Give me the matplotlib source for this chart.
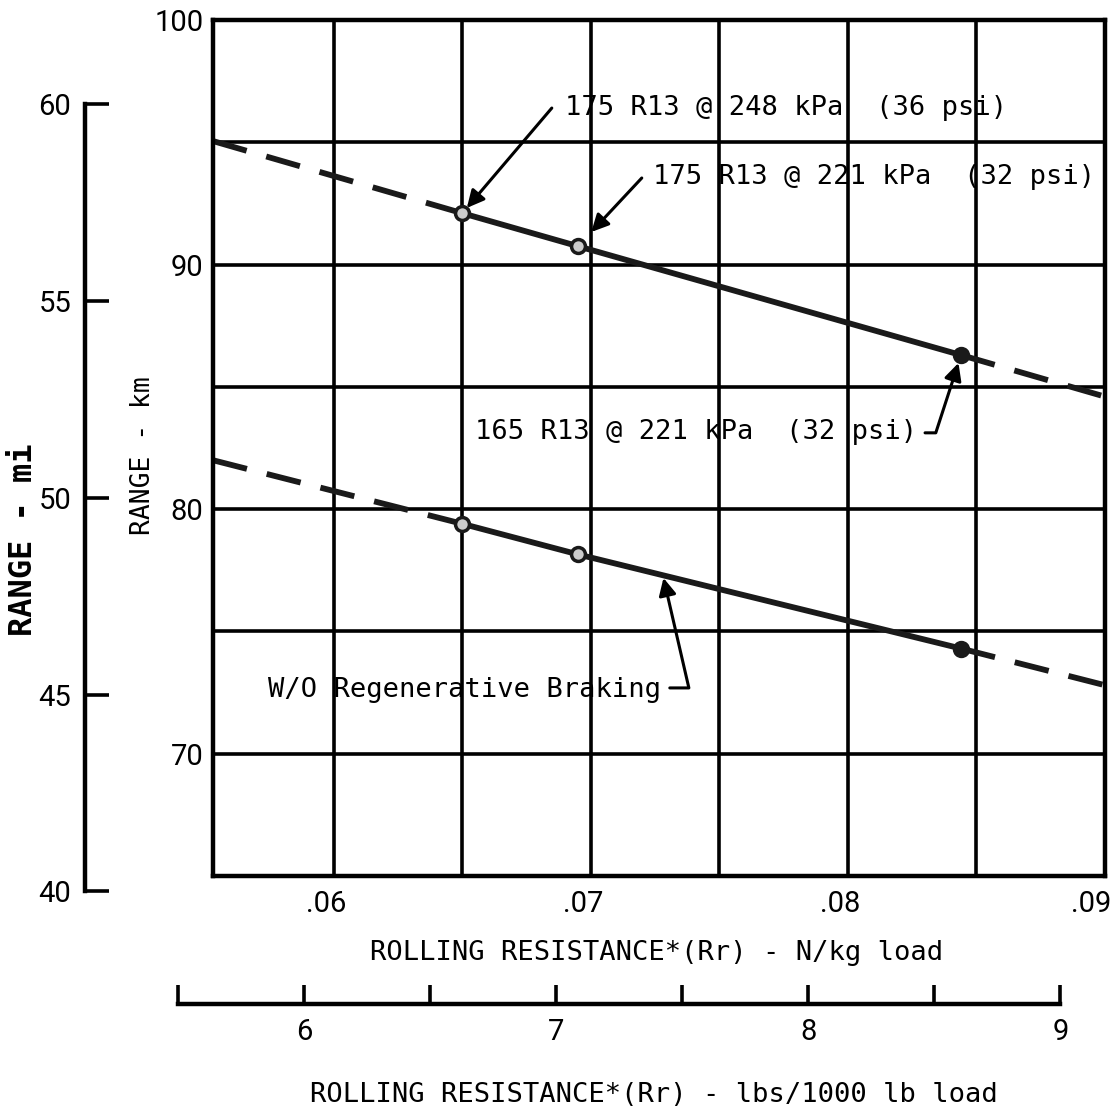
import matplotlib
matplotlib.use("Agg")
import matplotlib.pyplot as plt
import numpy as np
from matplotlib import font_manager
from matplotlib.transforms import ScaledTranslation

# rolling resistance (N/kg) of the three tyres and the range they give (km)
rr_nkg = [0.065, 0.0695, 0.0844]
range_regen_km = [92.1, 90.75, 86.3]
range_noregen_km = [79.4, 78.15, 74.3]

# dashed extrapolation to the edges of the plot
rr_extrap = [0.0553, 0.09]
regen_extrap_km = [95.05, 84.6]
noregen_extrap_km = [82.0, 72.8]

tyre_labels = ["175 R13 @ 248 kPa  (36 psi)",
               "175 R13 @ 221 kPa  (32 psi)",
               "165 R13 @ 221 kPa  (32 psi)"]
noregen_label = "W/O Regenerative Braking"

km_ticks = [70, 80, 90, 100]
km_grid = [75, 85, 95]
nkg_ticks = [0.06, 0.07, 0.08, 0.09]
nkg_ticklabels = [".06", ".07", ".08", ".09"]
nkg_grid = [0.065, 0.075, 0.085]
mi_ticks = [40, 45, 50, 55, 60]
lbs_ticks = [6, 7, 8, 9]
lbs_minor = [5.5, 6.5, 7.5, 8.5]

KM_PER_MI = 1.609344
NKG_PER_LBS = 0.00980665

names = {f.name for f in font_manager.fontManager.ttflist}
if "Liberation Sans Narrow" in names:
    num_font, num_size = "Liberation Sans Narrow", 23
elif "Roboto" in names:
    num_font, num_size = "Roboto", 21
else:
    num_font, num_size = "DejaVu Sans", 19
mono = "DejaVu Sans Mono"

W, H = 1115, 1114
fig = plt.figure(figsize=(W / 100, H / 100), dpi=100)
pos = [213 / W, 1 - 876 / H, 892 / W, 856 / H]
ax = fig.add_axes(pos)

xlim = (0.0553, 0.09)
ylim = (65, 100)
ax.set_xlim(*xlim)
ax.set_ylim(*ylim)

ax.set_xticks(nkg_ticks)
ax.set_xticklabels(nkg_ticklabels)
ax.set_xticks(nkg_grid, minor=True)
ax.set_yticks(km_ticks)
ax.set_yticks(km_grid, minor=True)
ax.grid(True, which="both", color="black", lw=2.6)
ax.set_axisbelow(True)
ax.tick_params(which="both", length=0)
ax.tick_params(axis="x", pad=10)
ax.tick_params(axis="y", pad=7)
for lab in ax.get_xticklabels() + ax.get_yticklabels():
    lab.set_fontfamily(num_font)
    lab.set_fontsize(num_size)
xlabs = ax.get_xticklabels()
for lab in xlabs:
    lab.set_transform(lab.get_transform() + ScaledTranslation(-0.08, 0, fig.dpi_scale_trans))
xlabs[-1].set_horizontalalignment("right")
xlabs[-1].set_transform(xlabs[-1].get_transform() + ScaledTranslation(0.14, 0, fig.dpi_scale_trans))
for sp in ax.spines.values():
    sp.set_linewidth(3.2)

line_kw = dict(color="#1a1a1a", lw=4.2, solid_capstyle="butt")
dash_kw = dict(color="#1a1a1a", lw=4.2, dashes=(6, 3.5))

for y, y_ext in [(range_regen_km, regen_extrap_km), (range_noregen_km, noregen_extrap_km)]:
    ax.plot(rr_nkg, y, **line_kw)
    ax.plot([rr_extrap[0], rr_nkg[0]], [y_ext[0], y[0]], **dash_kw)
    ax.plot([rr_nkg[-1], rr_extrap[1]], [y[-1], y_ext[1]], **dash_kw)
    ax.plot(rr_nkg[:2], y[:2], "o", ms=10, mfc="#cccccc", mec="#1a1a1a", mew=2.5)
    ax.plot(rr_nkg[2:], y[2:], "o", ms=10, mfc="#1a1a1a", mec="#1a1a1a", mew=2.5)

txt_kw = dict(family=mono, fontsize=19.5, va="center", ha="left")
arr_kw = dict(arrowstyle="-|>", color="black", lw=2.2, mutation_scale=26)

# 175 R13 @ 248 kPa
ax.text(0.06899, 96.40, tyre_labels[0], **txt_kw)
ax.annotate("", xy=(rr_nkg[0], range_regen_km[0]), xytext=(0.06848, 96.40),
            arrowprops=dict(shrinkA=0, shrinkB=5, **arr_kw))
# 175 R13 @ 221 kPa
ax.text(0.07241, 93.58, tyre_labels[1], **txt_kw)
ax.annotate("", xy=(rr_nkg[1], range_regen_km[1]), xytext=(0.07198, 93.54),
            arrowprops=dict(shrinkA=0, shrinkB=14, **arr_kw))
# 165 R13 @ 221 kPa
ax.text(0.06549, 83.16, tyre_labels[2], **txt_kw)
ax.annotate("", xy=(rr_nkg[2], range_regen_km[2]), xytext=(0.08300, 83.12),
            arrowprops=dict(shrinkA=0, shrinkB=6,
                            connectionstyle="angle,angleA=0,angleB=72,rad=0", **arr_kw))
# without regenerative braking
ax.text(0.05743, 72.61, noregen_label, **txt_kw)
x_tip = 0.0728
ax.annotate("", xy=(x_tip, np.interp(x_tip, rr_nkg, range_noregen_km)),
            xytext=(0.07307, 72.69),
            arrowprops=dict(shrinkA=0, shrinkB=2,
                            connectionstyle="angle,angleA=0,angleB=103,rad=0", **arr_kw))


def fx(v):
    return pos[0] + (v - xlim[0]) / (xlim[1] - xlim[0]) * pos[2]


def fy(v):
    return pos[1] + (v - ylim[0]) / (ylim[1] - ylim[0]) * pos[3]


# miles scale on the far left
b = fy(mi_ticks[0] * KM_PER_MI)
t = fy(mi_ticks[-1] * KM_PER_MI)
ax_mi = fig.add_axes([85 / W, b, 1e-4, t - b])
ax_mi.set_ylim(mi_ticks[0], mi_ticks[-1])
ax_mi.set_yticks(mi_ticks)
ax_mi.set_xticks([])
ax_mi.patch.set_visible(False)
for name in ["top", "right", "bottom"]:
    ax_mi.spines[name].set_visible(False)
ax_mi.spines["left"].set_linewidth(3.2)
ax_mi.tick_params(axis="y", direction="in", length=17, width=2.6, pad=10)
for lab in ax_mi.get_yticklabels():
    lab.set_fontfamily(num_font)
    lab.set_fontsize(num_size)

# lbs/1000 lb scale below
l = fx(lbs_minor[0] * NKG_PER_LBS)
r = fx(lbs_ticks[-1] * NKG_PER_LBS)
ax_lb = fig.add_axes([l, 1 - 1004 / H, r - l, 1e-4])
ax_lb.set_xlim(lbs_minor[0], lbs_ticks[-1])
ax_lb.set_xticks(lbs_ticks)
ax_lb.set_xticks(lbs_minor, minor=True)
ax_lb.set_yticks([])
ax_lb.patch.set_visible(False)
for name in ["top", "right", "left"]:
    ax_lb.spines[name].set_visible(False)
ax_lb.spines["bottom"].set_linewidth(3.2)
ax_lb.tick_params(axis="x", which="both", direction="in", length=14, width=2.6, pad=10)
for lab in ax_lb.get_xticklabels():
    lab.set_fontfamily(num_font)
    lab.set_fontsize(num_size)

fig.text(657 / W, 1 - 953 / H, "ROLLING RESISTANCE*(Rr) - N/kg load",
         family=mono, fontsize=19.5, ha="center", va="center")
fig.text(654 / W, 1 - 1095 / H, "ROLLING RESISTANCE*(Rr) - lbs/1000 lb load",
         family=mono, fontsize=19.5, ha="center", va="center")
fig.text(143 / W, 1 - 456 / H, "RANGE - km", family=mono, fontsize=19,
         rotation=90, ha="center", va="center")
fig.text(24 / W, 1 - 540 / H, "RANGE - mi", family=mono, fontsize=23,
         fontweight="bold", rotation=90, ha="center", va="center")

fig.savefig("out.png", dpi=100, facecolor="white")
